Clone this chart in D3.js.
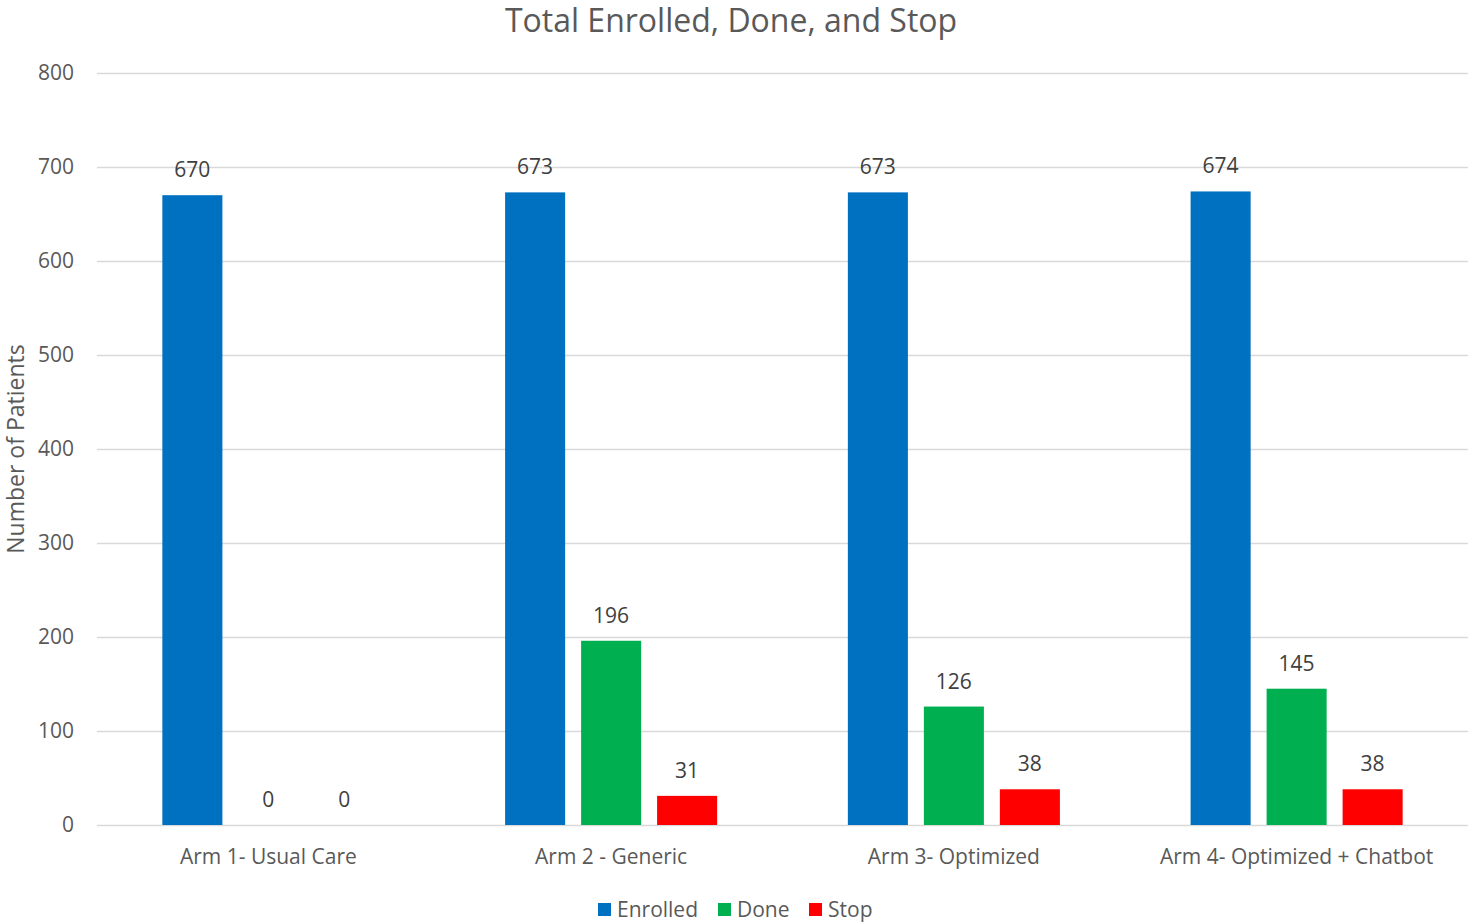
<!DOCTYPE html>
<html lang="en">
<head>
<meta charset="UTF-8">
<title>Total Enrolled, Done, and Stop</title>
<style>
    body { margin: 0; background: #fff; }
    text { font-family: "Open Sans", "Noto Sans", sans-serif; }
    .grid line { stroke: #d9d9d9; stroke-width: 1.3px; }
    .grid path { display: none; }
</style>
</head>
<body>
<script src="https://d3js.org/d3.v7.min.js"></script>
<script>
    var arms = ['Arm 1- Usual Care', 'Arm 2 - Generic', 'Arm 3- Optimized', 'Arm 4- Optimized + Chatbot'];
    var seriesNames = ['Enrolled', 'Done', 'Stop'];
    var seriesColors = ['#0070c0', '#00b050', '#ff0000'];
    var enrolled = [670, 673, 673, 674];
    var done = [0, 196, 126, 145];
    var stop = [0, 31, 38, 38];
    var yTicks = [0, 100, 200, 300, 400, 500, 600, 700, 800];

    var width = 1468, height = 923;
    var margin = {left: 97, right: 0, top: 73, bottom: 98};

    var svg = d3.select('body').append('svg')
        .attr('width', width)
        .attr('height', height);

    var x0 = d3.scaleBand()
        .domain(arms)
        .range([margin.left, width - margin.right]);

    var x1 = d3.scaleBand()
        .domain(seriesNames)
        .range([0, 228])
        .paddingInner(0.21)
        .paddingOuter(0.105);

    var y = d3.scaleLinear()
        .domain([0, 800])
        .range([height - margin.bottom, margin.top]);

    // gridlines
    svg.append('g').attr('class', 'grid')
        .attr('transform', 'translate(' + margin.left + ',0)')
        .call(d3.axisLeft(y).tickValues(yTicks).tickSize(-(width - margin.left - margin.right)).tickFormat(''));

    // y tick labels
    svg.append('g').selectAll('text')
        .data(yTicks)
        .enter().append('text')
        .attr('x', 74)
        .attr('y', function (d) { return y(d); })
        .attr('dy', '0.35em')
        .attr('text-anchor', 'end')
        .attr('fill', '#595959')
        .style('font-size', '21px')
        .text(function (d) { return d; });

    var rows = arms.map(function (a, i) {
        return {arm: a, values: [enrolled[i], done[i], stop[i]]};
    });

    var groups = svg.append('g').selectAll('g')
        .data(rows)
        .enter().append('g')
        .attr('transform', function (d) {
            return 'translate(' + (x0(d.arm) + x0.bandwidth() / 2 - 114) + ',0)';
        });

    groups.selectAll('rect')
        .data(function (d) { return d.values.map(function (v, j) { return {name: seriesNames[j], value: v, color: seriesColors[j]}; }); })
        .enter().append('rect')
        .attr('x', function (d) { return x1(d.name); })
        .attr('width', x1.bandwidth())
        .attr('y', function (d) { return y(d.value); })
        .attr('height', function (d) { return y(0) - y(d.value); })
        .attr('fill', function (d) { return d.color; });

    groups.selectAll('text')
        .data(function (d) { return d.values.map(function (v, j) { return {name: seriesNames[j], value: v}; }); })
        .enter().append('text')
        .attr('x', function (d) { return x1(d.name) + x1.bandwidth() / 2; })
        .attr('y', function (d) { return y(d.value) - 18; })
        .attr('text-anchor', 'middle')
        .attr('fill', '#404040')
        .style('font-size', '21px')
        .text(function (d) { return d.value; });

    // category labels
    svg.append('g').selectAll('text')
        .data(arms)
        .enter().append('text')
        .attr('x', function (d) { return x0(d) + x0.bandwidth() / 2; })
        .attr('y', 857)
        .attr('dy', '0.35em')
        .attr('text-anchor', 'middle')
        .attr('fill', '#595959')
        .style('font-size', '21px')
        .text(function (d) { return d; });

    // title
    svg.append('text')
        .attr('x', 731)
        .attr('y', 21)
        .attr('dy', '0.35em')
        .attr('text-anchor', 'middle')
        .attr('fill', '#595959')
        .style('font-size', '32px')
        .text('Total Enrolled, Done, and Stop');

    // y axis title
    svg.append('text')
        .attr('transform', 'translate(16,' + (margin.top + (height - margin.bottom - margin.top) / 2) + ') rotate(-90)')
        .attr('dy', '0.35em')
        .attr('text-anchor', 'middle')
        .attr('fill', '#595959')
        .style('font-size', '23px')
        .text('Number of Patients');

    // legend
    var legendX = [598, 718, 809];
    var legend = svg.append('g').selectAll('g')
        .data(seriesNames)
        .enter().append('g')
        .attr('transform', function (d, i) { return 'translate(' + legendX[i] + ',903)'; });
    legend.append('rect')
        .attr('width', 13).attr('height', 13)
        .attr('fill', function (d, i) { return seriesColors[i]; });
    legend.append('text')
        .attr('x', 19)
        .attr('y', 7)
        .attr('dy', '0.35em')
        .attr('fill', '#595959')
        .style('font-size', '21px')
        .text(function (d) { return d; });
</script>
</body>
</html>
